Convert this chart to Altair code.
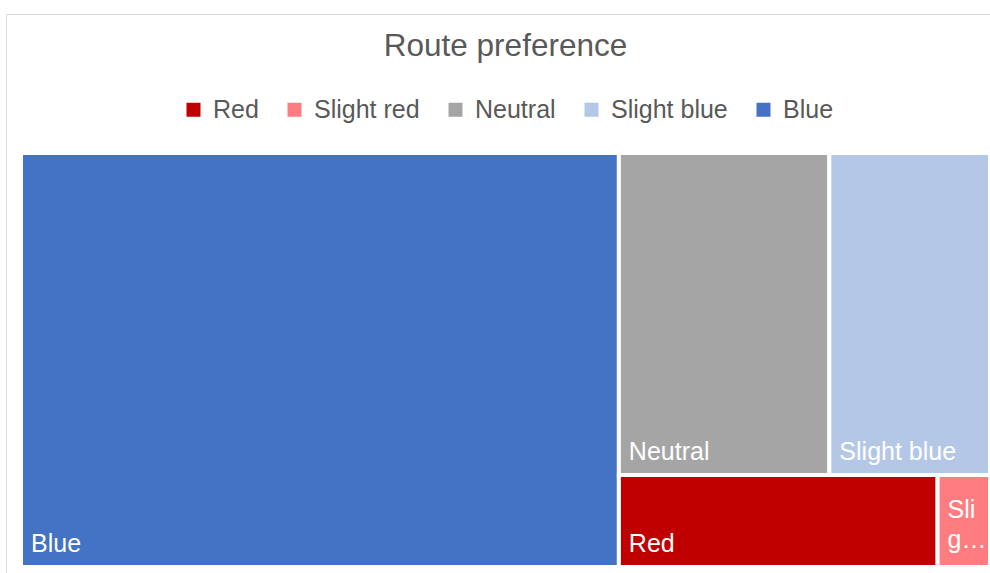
import altair as alt
import pandas as pd

# ---- data (percent of respondents) ----
categories = ["Red", "Slight red", "Neutral", "Slight blue", "Blue"]
shares = [7.3, 1.2, 16.9, 12.9, 61.7]
colors = ["#C00000", "#FF7C80", "#A5A5A5", "#B4C7E7", "#4472C4"]
# how the label of a cell too narrow for its name is wrapped / cut
wrapped_labels = {"Slight red": ["Sli", "g\u2026"]}

FONT = "Liberation Sans"
TEXT_GREY = "#595959"
W, H = 969, 414  # plot area


def squarify(items, x0, y0, w, h):
    total = sum(v for _, v in items)
    k = w * h / total
    rest = [(n, v * k) for n, v in sorted(items, key=lambda t: -t[1])]
    out = []

    def worst(row, side):
        s = sum(a for _, a in row)
        return max(max(side * side * a / (s * s), s * s / (side * side * a)) for _, a in row)

    while rest:
        side = min(w, h)
        row = [rest[0]]
        i = 1
        while i < len(rest) and worst(row + [rest[i]], side) <= worst(row, side):
            row.append(rest[i])
            i += 1
        rest = rest[i:]
        s = sum(a for _, a in row)
        if w >= h:
            cw = s / h
            yy = y0
            for n, a in row:
                ch = a / cw
                out.append((n, x0, x0 + cw, yy, yy + ch))
                yy += ch
            x0 += cw
            w -= cw
        else:
            rh = s / w
            xx = x0
            for n, a in row:
                ww = a / rh
                out.append((n, xx, xx + ww, y0, y0 + rh))
                xx += ww
            y0 += rh
            h -= rh
    return out


layout = squarify(list(zip(categories, shares)), 0, 0, W, H)
cells = pd.DataFrame(layout, columns=["category", "x1", "x2", "y1", "y2"])

line_rows = []
for n, x1, x2, y1, y2 in layout:
    lines = wrapped_labels.get(n, [n])
    for i, t in enumerate(lines):
        line_rows.append({"category": n, "text": t, "rev": len(lines) - 1 - i,
                          "nlines": len(lines), "x1": x1, "y2": y2})
label_df = pd.DataFrame(line_rows)

x_scale = alt.Scale(domain=[0, W], nice=False, zero=False)
y_scale = alt.Scale(domain=[0, H], nice=False, zero=False, reverse=True)

rects = alt.Chart(cells).mark_rect(stroke="white", strokeWidth=4).encode(
    x=alt.X("x1:Q", scale=x_scale, axis=None),
    x2="x2:Q",
    y=alt.Y("y1:Q", scale=y_scale, axis=None),
    y2="y2:Q",
    color=alt.Color(
        "category:N",
        scale=alt.Scale(domain=categories, range=colors),
        sort=categories,
        legend=alt.Legend(
            title=None, orient="none", legendX=160, legendY=-56,
            direction="horizontal", columns=5,
            symbolType="square", symbolSize=196, symbolStrokeWidth=0, symbolOpacity=1,
            labelFontSize=25, labelColor=TEXT_GREY, labelFont=FONT,
            labelOffset=7, columnPadding=23,
        ),
    ),
    tooltip=["category:N"],
)


def label_layer(cond, dy):
    return alt.Chart(label_df).transform_filter(cond).mark_text(
        align="left", baseline="alphabetic", dx=10, dy=dy,
        fontSize=25, font=FONT, color="white",
    ).encode(
        x=alt.X("x1:Q", scale=x_scale, axis=None),
        y=alt.Y("y2:Q", scale=y_scale, axis=None),
        text="text:N",
    )


labels = [
    label_layer((alt.datum.rev == 0) & (alt.datum.nlines == 1), -15),
    label_layer((alt.datum.rev == 0) & (alt.datum.nlines > 1), -19),
    label_layer(alt.datum.rev == 1, -49),
]

frame = alt.Chart(pd.DataFrame({"k": [0]})).mark_rect(
    fillOpacity=0, stroke="#D9D9D9", strokeWidth=1
).encode(
    x=alt.value(-14.5), x2=alt.value(W + 40), y=alt.value(-138.5), y2=alt.value(H + 40)
)

chart = alt.layer(frame, rects, *labels).properties(
    width=W,
    height=H,
    autosize=alt.AutoSizeParams(type="none"),
    padding={"left": 21, "top": 153, "right": 0, "bottom": 6},
    title=alt.TitleParams(
        "Route preference", fontSize=31.5, color=TEXT_GREY, font=FONT,
        fontWeight="normal", anchor="middle", frame="group", offset=-73,
        baseline="alphabetic",
    ),
).configure_view(stroke=None)

chart.save("out.html", embed_options={"renderer": "svg", "actions": False})
